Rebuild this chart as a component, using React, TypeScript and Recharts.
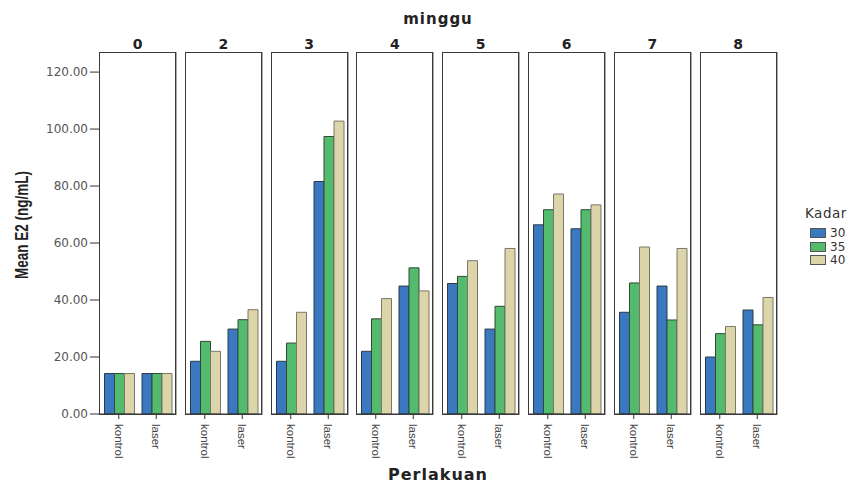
import { BarChart, Bar, XAxis, YAxis } from 'recharts';

const weeks = ['0', '2', '3', '4', '5', '6', '7', '8'];
const treatments = ['kontrol', 'laser'];
const kadarLevels = ['30', '35', '40'];
const yTicks = [0, 20, 40, 60, 80, 100, 120];

// index = week
const kadar30Kontrol = [14.2, 18.5, 18.5, 22.0, 45.8, 66.4, 35.7, 20.0];
const kadar30Laser = [14.2, 29.8, 81.6, 44.9, 29.8, 65.0, 44.9, 36.5];
const kadar35Kontrol = [14.2, 25.5, 24.9, 33.4, 48.3, 71.7, 46.0, 28.2];
const kadar35Laser = [14.2, 33.1, 97.4, 51.3, 37.8, 71.7, 33.0, 31.3];
const kadar40Kontrol = [14.2, 22.0, 35.7, 40.5, 53.8, 77.2, 58.6, 30.7];
const kadar40Laser = [14.2, 36.6, 102.8, 43.2, 58.1, 73.4, 58.1, 40.9];

const colors = ['#3a78c0', '#54ba6e', '#ddd5aa'];
const strokes = ['#2b3a4c', '#2f4a36', '#7a7668'];

const FONT = "'Liberation Sans', Arial, sans-serif";
const WIDE = "'DejaVu Sans', Verdana, sans-serif";

const panelLeft0 = 100;
const panelStep = 85.8;
const panelW = 75;
const plotTop = 53;
const plotH = 361;
const xAxisH = 45;
const yAxisW = 60;

function panelData(w: number) {
  return treatments.map((t, i) => ({
    name: t,
    k30: i === 0 ? kadar30Kontrol[w] : kadar30Laser[w],
    k35: i === 0 ? kadar35Kontrol[w] : kadar35Laser[w],
    k40: i === 0 ? kadar40Kontrol[w] : kadar40Laser[w],
  }));
}

const RotTick = (props: any) => {
  const { x, y, payload } = props;
  return (
    <g transform={`translate(${x},${y})`}>
      <text transform="rotate(90)" x={3} y={0} dy="0.35em" textAnchor="start" fontSize={11.5} fill="#444" fontFamily={FONT}>
        {payload.value}
      </text>
    </g>
  );
};

function Panel({ w }: { w: number }) {
  const first = w === 0;
  const left = panelLeft0 + w * panelStep - (first ? yAxisW : 0);
  return (
    <div style={{ position: 'absolute', left, top: plotTop }}>
      <BarChart
        width={panelW + (first ? yAxisW : 0)}
        height={plotH + xAxisH}
        data={panelData(w)}
        margin={{ top: 0, right: 0, bottom: 0, left: 0 }}
        barCategoryGap="12%"
        barGap={0}
      >
        <XAxis
          dataKey="name"
          height={xAxisH}
          tick={<RotTick />}
          tickLine={{ stroke: '#333' }}
          tickSize={5}
          axisLine={{ stroke: '#333' }}
          interval={0}
        />
        <YAxis
          hide={!first}
          width={yAxisW}
          domain={[0, 126.7]}
          ticks={yTicks}
          allowDataOverflow
          tickFormatter={(v: number) => v.toFixed(2)}
          tick={{ fontSize: 12, fill: '#555', fontFamily: WIDE }}
          tickLine={{ stroke: '#333' }}
          tickSize={10}
          tickMargin={2}
          axisLine={false}
        />
        {['k30', 'k35', 'k40'].map((k, i) => (
          <Bar key={k} dataKey={k} fill={colors[i]} stroke={strokes[i]} strokeWidth={1} isAnimationActive={false} />
        ))}
      </BarChart>
    </div>
  );
}

export default function App() {
  return (
    <div style={{ position: 'absolute', left: 0, top: 0, width: 855, height: 484, background: '#fff', fontFamily: FONT, overflow: 'hidden' }}>
      <div
        style={{
          position: 'absolute',
          left: 338,
          width: 200,
          top: 11,
          lineHeight: '16px',
          textAlign: 'center',
          fontWeight: 'bold',
          fontSize: 15,
          letterSpacing: 1,
          fontFamily: WIDE,
          color: '#222',
        }}
      >
        minggu
      </div>
      {weeks.map((wk, w) => (
        <div
          key={'t' + wk}
          style={{
            position: 'absolute',
            left: panelLeft0 + w * panelStep,
            width: panelW,
            top: 38,
            lineHeight: '13px',
            textAlign: 'center',
            fontWeight: 'bold',
            fontSize: 14,
            fontFamily: WIDE,
            color: '#222',
          }}
        >
          {wk}
        </div>
      ))}
      {weeks.map((wk, w) => (
        <Panel key={wk} w={w} />
      ))}
      {weeks.map((wk, w) => (
        <div
          key={'b' + wk}
          style={{
            position: 'absolute',
            left: panelLeft0 + w * panelStep - 1,
            top: plotTop - 1,
            width: panelW,
            height: plotH,
            border: '1px solid #3a3a3a',
            boxShadow: '1px 0 0 #aaa',
            pointerEvents: 'none',
          }}
        />
      ))}
      <div
        style={{
          position: 'absolute',
          left: 22,
          top: 225,
          transform: 'translate(-50%,-50%) rotate(-90deg) scaleX(0.75)',
          whiteSpace: 'nowrap',
          fontWeight: 'bold',
          fontSize: 18,
          lineHeight: '20px',
          color: '#222',
        }}
      >
        Mean E2 (ng/mL)
      </div>
      <div
        style={{
          position: 'absolute',
          left: 338,
          width: 200,
          top: 467,
          lineHeight: '16px',
          textAlign: 'center',
          fontWeight: 'bold',
          fontSize: 16,
          letterSpacing: 1,
          fontFamily: WIDE,
          color: '#222',
        }}
      >
        Perlakuan
      </div>
      <div style={{ position: 'absolute', left: 805, top: 206, fontSize: 13.5, lineHeight: '14px', fontFamily: WIDE, letterSpacing: 0.5, color: '#333' }}>
        Kadar
      </div>
      {kadarLevels.map((k, i) => (
        <div
          key={k}
          style={{ position: 'absolute', left: 810, top: 227 + i * 13.7, height: 12, display: 'flex', alignItems: 'center', fontSize: 12, fontFamily: WIDE, color: '#333' }}
        >
          <span style={{ display: 'inline-block', width: 14, height: 8, background: colors[i], border: '1px solid #555', marginRight: 4 }} />
          {k}
        </div>
      ))}
    </div>
  );
}
